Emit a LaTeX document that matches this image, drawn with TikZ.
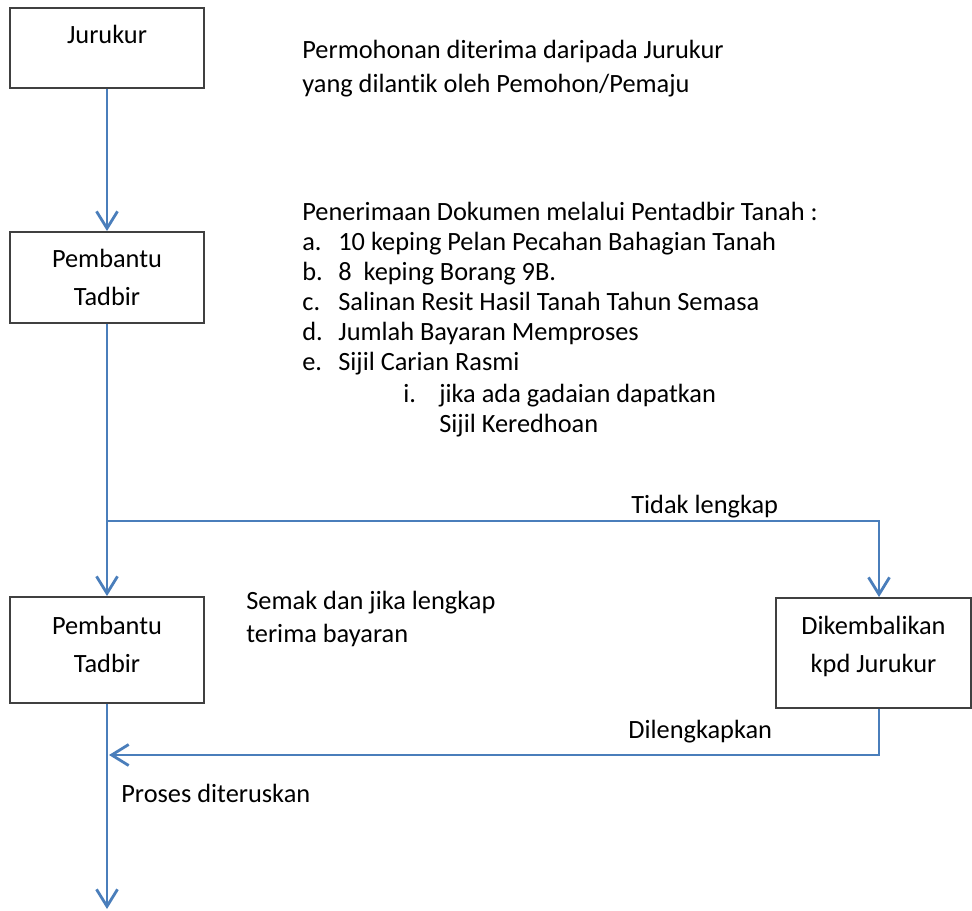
\documentclass[tikz,border=0pt]{standalone}
\usepackage{fontspec}
\setmainfont[Ligatures=NoCommon]{Carlito}
\usetikzlibrary{arrows.meta,positioning}
\definecolor{FlowBlue}{HTML}{4A7EBB}
\definecolor{BoxLine}{HTML}{404040}

\begin{document}
\begin{tikzpicture}[x=0.02cm,y=-0.02cm,
    font=\fontsize{15}{21.6}\selectfont,
    box/.style={draw=BoxLine,line width=1.1pt,minimum width=3.88cm,align=center,inner sep=0pt},
    link/.style={draw=FlowBlue,line width=1.6pt},
    flow/.style={link,-{Straight Barb[length=0.34cm,width=0.42cm,line width=1.6pt]}},
    txt/.style={anchor=base west,inner sep=0pt},
  ]
  \useasboundingbox (0,0) rectangle (972,911);

  % boxes
  \node[box,minimum height=1.6cm,text height=0.4cm,text depth=0.56cm] (jurukur) at (107,48) {Jurukur};
  \node[box,minimum height=1.82cm] (pembantuA) at (107,277.5) {Pembantu\\Tadbir};
  \node[box,minimum height=2.12cm,text depth=0.24cm] (pembantuB) at (107,650) {Pembantu\\Tadbir};
  \node[box,minimum width=3.9cm,minimum height=2.2cm,text depth=0.33cm] (kembali) at (873.5,653) {Dikembalikan\\kpd Jurukur};

  % notes
  \node[txt] (mohonA) at (302,59) {Permohonan diterima daripada Jurukur};
  \node[txt] (mohonB) at (302,93) {yang dilantik oleh Pemohon/Pemaju};
  \node[txt] (terima) at (302,221) {Penerimaan Dokumen melalui Pentadbir Tanah :};
  \foreach \k/\t [count=\n] in {a./10 keping Pelan Pecahan Bahagian Tanah,
      b./8\ \ keping Borang 9B.,
      c./Salinan Resit Hasil Tanah Tahun Semasa,
      d./Jumlah Bayaran Memproses,
      e./Sijil Carian Rasmi} {
    \node[txt] (huruf\n) at (302,221+30*\n) {\k};
    \node[txt] (item\n) at (338,221+30*\n) {\t};
  }
  \node[txt] (rumi) at (403,402) {i.};
  \node[txt] (gadaiA) at (439,402) {jika ada gadaian dapatkan};
  \node[txt] (gadaiB) at (439,433) {Sijil Keredhoan};
  \node[txt] (semakA) at (246,609) {Semak dan jika lengkap};
  \node[txt] (semakB) at (246,642) {terima bayaran};
  \node[txt] (tidak) at (631,513) {Tidak lengkap};
  \node[txt] (lengkap) at (628,738) {Dilengkapkan};
  \node[txt] (proses) at (121,802) {Proses diteruskan};

  % connectors
  \coordinate (split) at (107,521);
  \coordinate (rejoin) at (109,755);
  \coordinate (akhir) at (107,909);
  \draw[flow] (jurukur) -- (pembantuA);
  \draw[flow] (pembantuA) -- (pembantuB);
  \draw[flow] (split) -| ([xshift=0.11cm]kembali.north);
  \draw[flow] ([xshift=0.11cm]kembali.south) |- (rejoin);
  \draw[flow] (pembantuB) -- (akhir);
\end{tikzpicture}
\end{document}
